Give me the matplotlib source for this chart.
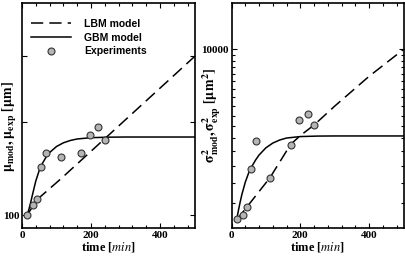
import matplotlib
matplotlib.use("Agg")
import matplotlib.pyplot as plt
from matplotlib.ticker import FixedLocator, NullFormatter, FixedFormatter
from matplotlib.font_manager import FontProperties

plt.rcParams['mathtext.fontset'] = 'stix'

# experiment times (min)
t_exp = [15, 33, 44, 56, 70, 112, 172, 197, 221, 240]
# left panel: mean size (um)
mu_exp = [100, 104.5, 107.1, 123.4, 131.2, 128.8, 130.9, 142, 146.6, 138.7]
# right panel: variance (um^2)
var_exp = [2174, 2254, 2406, 3419, 4374, 3150, 4217, 5281, 5574, 5075]

# model curves
t_gbm = [15, 20, 25, 30, 40, 50, 60, 70, 80, 100, 120, 140, 160, 200, 250, 300, 400, 500]
mu_gbm = [100, 102.5, 105.5, 109, 116, 121.5, 125.5, 128.8, 131.3, 134.8, 137, 138.4,
          139.3, 140.1, 140.4, 140.5, 140.5, 140.5]
var_gbm = [2150, 2340, 2520, 2700, 3020, 3290, 3500, 3690, 3860, 4120, 4300, 4420,
           4500, 4560, 4580, 4585, 4585, 4585]

t_lbm_mu = [15, 44, 112, 240, 500]
mu_lbm = [100, 107, 117, 139.5, 199.5]
t_lbm_var = [15, 44, 112, 172, 200, 240, 300, 400, 500]
var_lbm = [2150, 2410, 3150, 4250, 4600, 5060, 6000, 7850, 10000]

fig = plt.figure(figsize=(4.05, 2.58), dpi=100)
ax1 = fig.add_axes([22/405, 1-228/258, 172.5/405, 225/258])
ax2 = fig.add_axes([231.5/405, 1-228/258, 172/405, 225/258])

tick_fp = FontProperties(family='Liberation Serif', weight='bold', size=8)
lab_font = dict(family='Liberation Serif', weight='bold', size=9)

for ax in (ax1, ax2):
    ax.set_xlim(0, 500)
    ax.set_yscale('log')
    for s in ax.spines.values():
        s.set_linewidth(1.2)
    ax.xaxis.set_major_locator(FixedLocator([0, 200, 400]))
    ax.xaxis.set_minor_locator(FixedLocator(list(range(40, 500, 40))))
    ax.tick_params(which='both', direction='in', top=True, right=True, width=0.8)
    ax.tick_params(which='major', length=3.5)
    ax.tick_params(which='minor', length=2.5)
    ax.tick_params(axis='x', which='major', pad=2.5)
    ax.set_xlabel('time [$\\mathit{min}$]', fontdict=lab_font, labelpad=0)

# left panel
ax1.plot(t_lbm_mu, mu_lbm, color='black', lw=1.1, ls=(0, (8, 4)), label='LBM model')
ax1.plot(t_gbm, mu_gbm, color='black', lw=1.1, label='GBM model')
ax1.plot(t_exp, mu_exp, ls='none', marker='o', ms=5, mfc='#b4b4b4', mec='#333333',
         mew=0.8, label='Experiments')
ax1.set_ylim(94.5, 252)
ax1.yaxis.set_major_locator(FixedLocator([100, 150, 200]))
ax1.yaxis.set_major_formatter(FixedFormatter(['100', '', '']))
ax1.yaxis.set_minor_locator(FixedLocator([]))
ax1.yaxis.set_minor_formatter(NullFormatter())
ax1.tick_params(axis='y', which='major', pad=2)
ax1.set_ylabel('$\\mathbf{\\mu_{mod}, \\mu_{exp}\\ [\\mu m]}$', fontsize=10)
ax1.yaxis.set_label_coords(-0.02, 0.45)
leg = ax1.legend(loc='upper left', bbox_to_anchor=(0.0, 0.97), frameon=False,
                 handlelength=3.8, handletextpad=1.3, labelspacing=0.35,
                 prop=dict(family='Liberation Sans', weight='bold', size=7.5))

# right panel
ax2.plot(t_lbm_var, var_lbm, color='black', lw=1.1, ls=(0, (8, 4)))
ax2.plot(t_gbm, var_gbm, color='black', lw=1.1)
ax2.plot(t_exp, var_exp, ls='none', marker='o', ms=5, mfc='#b4b4b4', mec='#333333', mew=0.8)
ax2.set_ylim(2000, 15200)
ax2.yaxis.set_major_locator(FixedLocator([10000]))
ax2.yaxis.set_major_formatter(FixedFormatter(['10000']))
ax2.yaxis.set_minor_locator(FixedLocator(list(range(2500, 10000, 500))))
ax2.yaxis.set_minor_formatter(NullFormatter())
ax2.tick_params(axis='y', which='major', pad=2)
ax2.set_ylabel('$\\mathbf{\\sigma^2_{mod}, \\sigma^2_{exp}\\ [\\mu m^2]}$', fontsize=10)
ax2.yaxis.set_label_coords(-0.05, 0.50)

for ax in (ax1, ax2):
    for lbl in ax.get_xticklabels() + ax.get_yticklabels():
        lbl.set_fontproperties(tick_fp)

fig.savefig('out.png', dpi=100)
